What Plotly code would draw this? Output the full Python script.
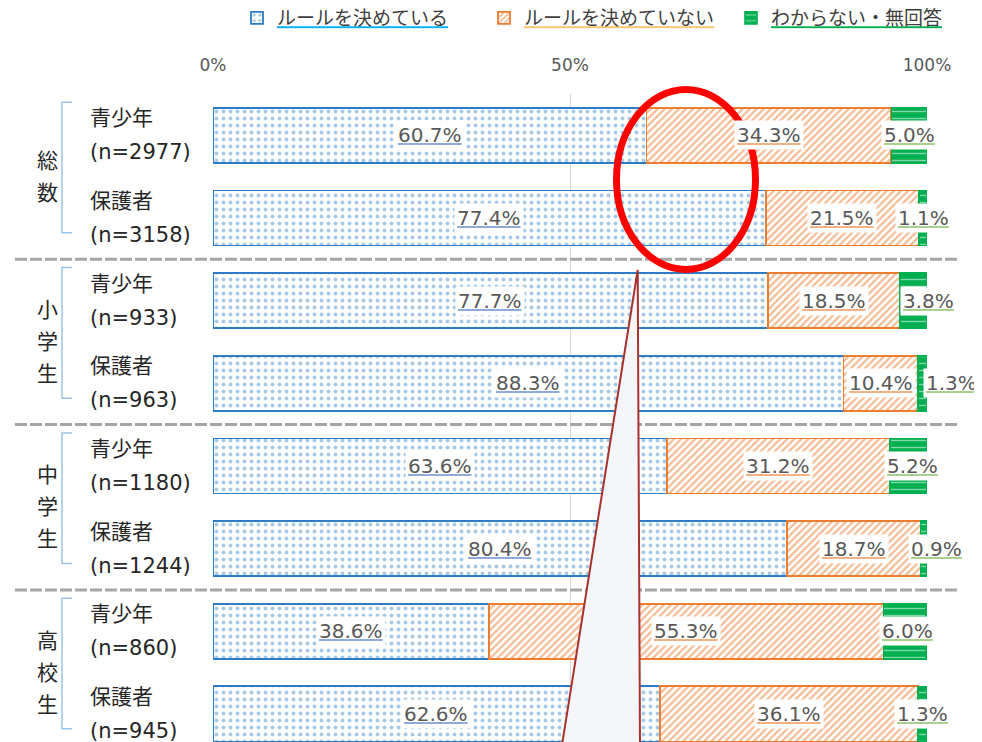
import plotly.graph_objects as go

# ---------------- data ----------------
GROUPS = ["総数", "小学生", "中学生", "高校生"]
RESPONDENTS = ["青少年", "保護者"]
ROW_N = [2977, 3158, 933, 963, 1180, 1244, 860, 945]
SERIES_NAMES = ["ルールを決めている", "ルールを決めていない", "わからない・無回答"]
DECIDED = [60.7, 77.4, 77.7, 88.3, 63.6, 80.4, 38.6, 62.6]
NOT_DECIDED = [34.3, 21.5, 18.5, 10.4, 31.2, 18.7, 55.3, 36.1]
UNKNOWN = [5.0, 1.1, 3.8, 1.3, 5.2, 0.9, 6.0, 1.3]
X_TICKS = [0, 50, 100]

# ---------------- layout helpers ----------------
OFF = 8  # page body margin
W, H = 982 - OFF, 742 - OFF
ML, MT, MB = 213 - OFF, 94 - OFF, 0
PW = 714
MR = W - ML - PW
PH = H - MT - MB


def pxx(px):
    return (px - OFF - ML) / PW


def pxy(py):
    return (H - MB - (py - OFF)) / PH


FONT = "DejaVu Sans, Noto Sans CJK JP, sans-serif"
TXT = "#595959"
rows = list(range(len(ROW_N)))
BAR_W = 0.666


def uline(txt, ucol, tcol=TXT):
    return (f'<span style="text-decoration:underline;fill:{ucol}">'
            f'<span style="fill:{tcol}">{txt}</span></span>')


series = [DECIDED, NOT_DECIDED, UNKNOWN]
fill_styles = [
    dict(color="white", line=dict(color="#2e7cc4", width=1.8),
         pattern=dict(shape=".", fgcolor="#4f93d2", bgcolor="white", size=7, solidity=0.25)),
    dict(color="white", line=dict(color="#ed7d31", width=1.8),
         pattern=dict(shape="/", fgcolor="#f07624", bgcolor="white", size=5, solidity=0.45)),
    dict(color="#00b050", line=dict(color="#00b050", width=1.6),
         pattern=dict(shape="-", fgcolor="white", bgcolor="#00b050", size=7, solidity=0.2)),
]
legend_ucols = ["#00b0f0", "#ffc36b", "#00b050"]
label_ucols = ["#8faadc", "#f4b183", "#a9d18e"]

fig = go.Figure()
for name, vals, st, uc in zip(SERIES_NAMES, series, fill_styles, legend_ucols):
    fig.add_trace(go.Bar(
        x=vals, y=rows, orientation="h", width=BAR_W,
        name=uline(name, uc, "#404040"), marker=st, hoverinfo="x",
    ))

# value labels
green_shift = [0, 0, 15, 29, 4, 13, 3, 0]
annotations = []
for r in rows:
    start = 0
    for si, vals in enumerate(series):
        v = vals[r]
        xs = green_shift[r] if si == 2 else 0
        annotations.append(dict(
            x=start + v / 2, y=r, xref="x", yref="y", xshift=xs,
            text=uline(f"{v:.1f}%", label_ucols[si]), showarrow=False,
            bgcolor="white", borderpad=2,
            font=dict(family=FONT, size=20, color=TXT)))
        start += v

# row labels
for r in rows:
    annotations.append(dict(x=pxx(88), y=r, xref="paper", yref="y", yshift=17,
                            xanchor="left", showarrow=False,
                            text=RESPONDENTS[r % 2],
                            font=dict(family=FONT, size=21, color="#262626")))
    annotations.append(dict(x=pxx(88), y=r, xref="paper", yref="y", yshift=-17,
                            xanchor="left", showarrow=False,
                            text=f"(n={ROW_N[r]})",
                            font=dict(family=FONT, size=21, color="#262626")))

# group labels (vertical)
for g, name in enumerate(GROUPS):
    n = len(name)
    for k, ch in enumerate(name):
        annotations.append(dict(x=pxx(35), y=2 * g + 0.5, xref="paper", yref="y",
                                yshift=((n - 1) / 2 - k) * 32, showarrow=False,
                                text=ch, font=dict(family=FONT, size=21, color="#262626")))

shapes = []
# brackets
for g in range(len(GROUPS)):
    y0, y1 = 2 * g - 0.4, 2 * g + 1.18
    x1, x2 = pxx(62), pxx(72)
    shapes.append(dict(type="path", xref="paper", yref="y",
                       path=f"M {x2},{y0} L {x1},{y0} L {x1},{y1} L {x2},{y1}",
                       line=dict(color="#9dc3e6", width=1.5), layer="above"))
# separators
for g in range(len(GROUPS) - 1):
    yy = 2 * g + 1.5
    shapes.append(dict(type="line", xref="paper", yref="y", x0=pxx(15), x1=pxx(960),
                       y0=yy, y1=yy, line=dict(color="#a6a6a6", width=3, dash="12px,3px"),
                       layer="above"))
# callout
shapes.append(dict(type="path", xref="paper", yref="paper",
                   path=f"M {pxx(637.7)},{pxy(270)} L {pxx(640)},{pxy(745)} "
                        f"L {pxx(562)},{pxy(745)} Z",
                   fillcolor="#f4f6f9", line=dict(color="#a8322d", width=2), layer="above"))
# red ellipse
shapes.append(dict(type="circle", xref="paper", yref="paper",
                   x0=pxx(616.5), x1=pxx(755.5), y0=pxy(269.5), y1=pxy(89.5),
                   line=dict(color="#ff0000", width=7), layer="above"))

fig.update_layout(
    width=W, height=H, barmode="stack",
    margin=dict(l=ML, r=MR, t=MT, b=MB, autoexpand=False),
    paper_bgcolor="white", plot_bgcolor="white",
    font=dict(family=FONT, color=TXT),
    showlegend=True,
    legend=dict(orientation="h", x=pxx(978), xanchor="right", y=pxy(18), yanchor="middle",
                font=dict(family=FONT, size=19, color="#404040"),
                entrywidth=202, entrywidthmode="pixels", itemwidth=30,
                traceorder="normal", itemclick=False),
    xaxis=dict(side="top", range=[0, 100], tickvals=X_TICKS,
               ticktext=[f"{t}%" for t in X_TICKS],
               showgrid=True, gridcolor="#d9d9d9", gridwidth=1, zeroline=False,
               showline=False, ticks="outside", ticklen=15, tickcolor="rgba(0,0,0,0)",
               tickfont=dict(family=FONT, size=17, color=TXT), fixedrange=True),
    yaxis=dict(range=[7.34, -0.5], showticklabels=False, showgrid=False,
               zeroline=False, fixedrange=True),
    annotations=annotations, shapes=shapes,
)

fig.write_html("out.html")
